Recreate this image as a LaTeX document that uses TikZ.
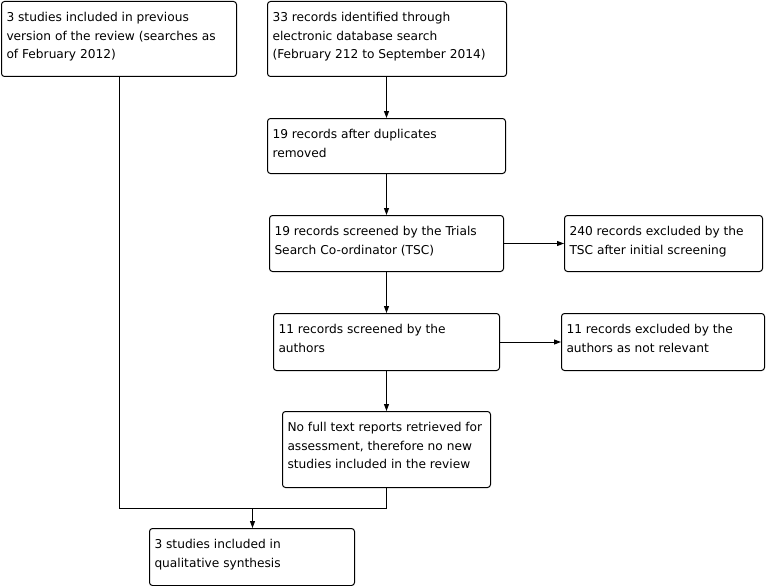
\documentclass[tikz,border=0pt]{standalone}
\usepackage{fontspec}
\setmainfont{DejaVu Sans}
\usetikzlibrary{arrows.meta, positioning, calc}

\newcommand{\boxtext}[3]{\begin{minipage}[t][#2][t]{#1}\raggedright #3\end{minipage}}

\begin{document}
\begin{tikzpicture}[x=1pt, y=-1pt, line width=1pt,
    box/.style={draw, rounded corners=3pt, anchor=north west, inner xsep=5pt, inner ysep=11pt,
        font=\fontsize{12.2}{18.3}\selectfont},
    arr/.style={-{Triangle[length=7pt, width=5pt]}}]
    \useasboundingbox (0,0) rectangle (766,586);
    % boxes
    \node[box] (prev) at (1,1) {\boxtext{225pt}{53pt}{3 studies included in previous\\version of the review (searches as\\of February 2012)}};
    \node[box] (ident) at (267,1) {\boxtext{229pt}{53pt}{33 records identified through\\electronic database search\\(February 212 to September 2014)}};
    \node[box] (dupl) at (267,118) {\boxtext{228pt}{33pt}{19 records after duplicates\\removed}};
    \node[box] (tsc) at (269,215) {\boxtext{224pt}{34pt}{19 records screened by the Trials\\Search Co-ordinator (TSC)}};
    \node[box] (extsc) at (564,215) {\boxtext{188pt}{34pt}{240 records excluded by the\\TSC after initial screening}};
    \node[box] (auth) at (273,313) {\boxtext{216pt}{35pt}{11 records screened by the\\authors}};
    \node[box] (exauth) at (561,313) {\boxtext{193pt}{35pt}{11 records excluded by the\\authors as not relevant}};
    \node[box] (none) at (282,411) {\boxtext{198pt}{54pt}{No full text reports retrieved for\\assessment, therefore no new\\studies included in the review}};
    \node[box] (incl) at (149,528) {\boxtext{195pt}{35pt}{3 studies included in\\qualitative synthesis}};
    \coordinate (spine) at (386.5,0);
    \coordinate (merge) at (252.5,508.5);
    % connectors
    \draw[arr] (ident.south -| spine) -- (dupl.north -| spine);
    \draw[arr] (dupl.south -| spine) -- (tsc.north -| spine);
    \draw[arr] (tsc.south -| spine) -- (auth.north -| spine);
    \draw[arr] (auth.south -| spine) -- (none.north -| spine);
    \draw[arr] (tsc.east) -- (extsc.west);
    \draw[arr] (auth.east) -- (exauth.west);
    \draw (prev.south) |- (merge -| spine) -- (none.south -| spine);
    \draw[arr] (merge) -- (incl.north -| merge);
\end{tikzpicture}
\end{document}
